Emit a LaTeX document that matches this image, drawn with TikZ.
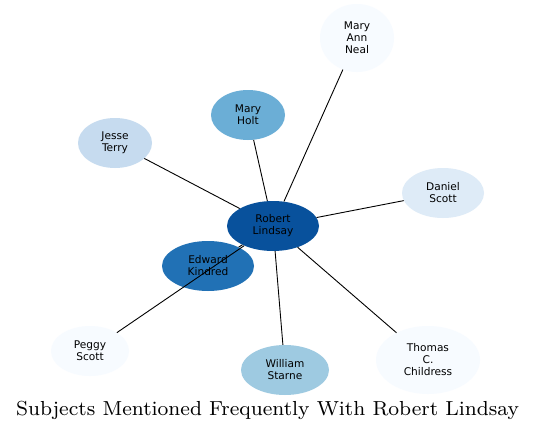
\documentclass[tikz,border=0pt]{standalone}
\usepackage{fontspec}
\newfontfamily\nodefont{DejaVu Sans}
\usetikzlibrary{shapes.geometric}
\definecolor{cA}{HTML}{08519C}
\definecolor{cB}{HTML}{2171B5}
\definecolor{cC}{HTML}{6BAED6}
\definecolor{cD}{HTML}{9ECAE1}
\definecolor{cE}{HTML}{C6DBEF}
\definecolor{cF}{HTML}{DEEBF7}
\definecolor{cG}{HTML}{F7FBFF}
\tikzset{
  person/.style={ellipse, inner sep=0pt, align=center, text=black,
    font=\nodefont\fontsize{10.6}{12}\selectfont},
  link/.style={draw=black, line width=0.9pt}
}
\begin{document}
\begin{tikzpicture}[x=1pt,y=-1pt]
\useasboundingbox[fill=white] (0,0) rectangle (536,431);
\node[person, fill=cA, minimum width=92pt, minimum height=50pt] (rl) at (273,226) {Robert\\Lindsay};
\node[person, fill=cG, minimum width=74pt, minimum height=68pt] (man) at (357,38) {Mary\\Ann\\Neal};
\node[person, fill=cC, minimum width=74pt, minimum height=50pt] (mh) at (248,115) {Mary\\Holt};
\node[person, fill=cE, minimum width=74pt, minimum height=50pt] (jt) at (115,143) {Jesse\\Terry};
\node[person, fill=cF, minimum width=82pt, minimum height=50pt] (ds) at (443,193) {Daniel\\Scott};
\node[person, fill=cB, minimum width=92pt, minimum height=50pt] (ek) at (208,266) {Edward\\Kindred};
\node[person, fill=cG, minimum width=78pt, minimum height=50pt] (ps) at (90,351) {Peggy\\Scott};
\node[person, fill=cD, minimum width=88pt, minimum height=50pt] (ws) at (285,370) {William\\Starne};
\node[person, fill=cG, minimum width=104pt, minimum height=68pt] (tc) at (428,360) {Thomas\\C.\\Childress};
\draw[link] (rl) -- (man);
\draw[link] (rl) -- (mh);
\draw[link] (rl) -- (jt);
\draw[link] (rl) -- (ds);
\draw[link] (rl) -- (ek);
\draw[link] (rl) -- (ps);
\draw[link] (rl) -- (ws);
\draw[link] (rl) -- (tc);
\node[font=\fontsize{8}{9}\selectfont, scale=2.54, inner sep=0pt] (title) at (267.5,410) {Subjects Mentioned Frequently With Robert Lindsay};
\end{tikzpicture}
\end{document}
